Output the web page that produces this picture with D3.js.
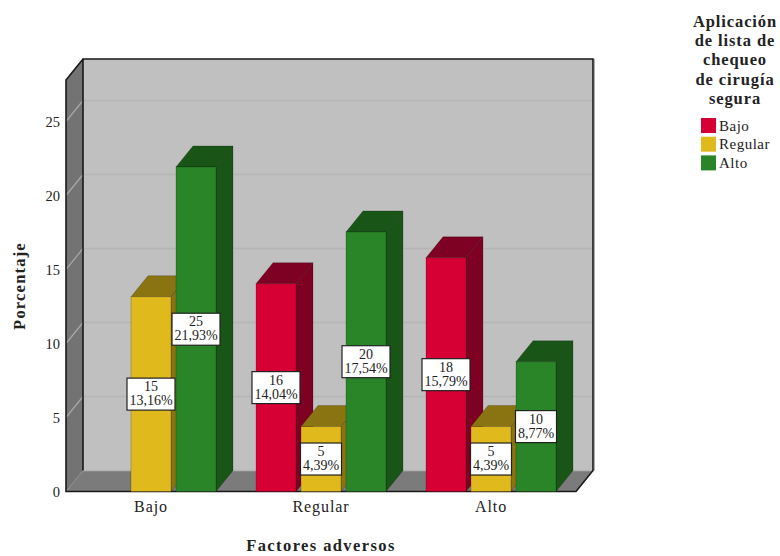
<!DOCTYPE html>
<html>
<head>
<meta charset="utf-8">
<script src="https://cdn.jsdelivr.net/npm/d3@7/dist/d3.min.js"></script>
<style>
html,body{margin:0;padding:0;background:#fff;}
svg{display:block;}
text{font-family:"Liberation Serif",serif;fill:#222;}
</style>
</head>
<body>
<svg id="chart" width="780" height="556"></svg>
<script>
// Adverse factors grouped by surgical safety checklist application
const categories = ["Bajo", "Regular", "Alto"];
const seriesNames = ["Bajo", "Regular", "Alto"];
const counts = [[0, 15, 25], [16, 5, 20], [18, 5, 10]];
const percents = [[0, 13.16, 21.93], [14.04, 4.39, 17.54], [15.79, 4.39, 8.77]];
const percentLabels = [["", "13,16%", "21,93%"], ["14,04%", "4,39%", "17,54%"], ["15,79%", "4,39%", "8,77%"]];
const yTicks = [0, 5, 10, 15, 20, 25];
const legendTitle = ["Aplicación", "de lista de", "chequeo", "de cirugía", "segura"];
const fronts = ["#d70034", "#e0b91d", "#2a8528"];
const sides = ["#7e0022", "#8a7411", "#1a5518"];

const svg = d3.select("#chart");
const depthX = 17, depthY = 21;
const floorY = 491.5, topY = 80;

const x = d3.scaleBand().domain(categories).range([66, 576]);
const xInner = d3.scaleBand().domain(seriesNames).range([20, 150]).paddingInner(5 / 45);
const y = d3.scaleLinear().domain([0, 25]).range([floorY, floorY - 25 * 14.8]);
const left = x.range()[0], right = x.range()[1];
const poly = pts => pts.map(p => p.join(",")).join(" ");

// Box walls and floor
svg.append("polygon").attr("points", poly([[left + depthX, topY - depthY], [right + depthX, topY - depthY], [right + depthX, floorY - depthY], [left + depthX, floorY - depthY]]))
  .attr("fill", "#c0c0c0");
svg.append("polygon").attr("points", poly([[left, topY], [left + depthX, topY - depthY], [left + depthX, floorY - depthY], [left, floorY]]))
  .attr("fill", "#737373");
svg.append("polygon").attr("points", poly([[left, floorY], [left + depthX, floorY - depthY], [right + depthX, floorY - depthY], [right, floorY]]))
  .attr("fill", "#7b7b7b");

// Grid lines across the side and back walls
yTicks.filter(d => d > 0).forEach(d => {
  svg.append("line").attr("x1", left).attr("y1", y(d)).attr("x2", left + depthX).attr("y2", y(d) - depthY)
    .attr("stroke", "#a8a8a8").attr("stroke-width", 1.2);
  svg.append("line").attr("x1", left + depthX).attr("y1", y(d) - depthY).attr("x2", right + depthX).attr("y2", y(d) - depthY)
    .attr("stroke", "#b5b5b5").attr("stroke-width", 1.5);
});
svg.append("line").attr("x1", left + depthX).attr("x2", right + depthX)
  .attr("y1", floorY - depthY).attr("y2", floorY - depthY)
  .attr("stroke", "#b4b4b4").attr("stroke-width", 1.5);

// Pale rim outside the right wall, then the box outline
svg.append("line").attr("x1", right + depthX + 1.5).attr("x2", right + depthX + 1.5)
  .attr("y1", topY - depthY).attr("y2", floorY - depthY)
  .attr("stroke", "#b0b0b0").attr("stroke-width", 1);
svg.append("polyline")
  .attr("points", poly([[left + depthX, floorY - depthY], [left + depthX, topY - depthY], [right + depthX, topY - depthY], [right + depthX, floorY - depthY], [right, floorY], [left, floorY], [left, topY], [left + depthX, topY - depthY]]))
  .attr("fill", "none").attr("stroke", "#1a1a1a").attr("stroke-width", 1.6);

// Bars, each a front face with side and top faces
const groups = svg.selectAll("g.group").data(categories).join("g").attr("class", "group")
  .attr("transform", d => `translate(${x(d)},0)`);

groups.each(function (cat, ci) {
  const g = d3.select(this);
  seriesNames.forEach((s, si) => {
    const v = percents[ci][si];
    if (!v) return;
    const x0 = xInner(s), x1 = x0 + xInner.bandwidth(), yTop = y(v);
    g.append("polygon").attr("points", poly([[x1, yTop], [x1 + depthX, yTop - depthY], [x1 + depthX, floorY - depthY], [x1, floorY]]))
      .attr("fill", sides[si]).attr("stroke", "#0003");
    g.append("polygon").attr("points", poly([[x0, yTop], [x0 + depthX, yTop - depthY], [x1 + depthX, yTop - depthY], [x1, yTop]]))
      .attr("fill", sides[si]).attr("stroke", "#0003");
    g.append("rect").attr("x", x0).attr("y", yTop).attr("width", xInner.bandwidth()).attr("height", floorY - yTop)
      .attr("fill", fronts[si]).attr("stroke", "#0003");
  });
});

// Value boxes sit above all the bars; their width follows the label length
groups.each(function (cat, ci) {
  const g = d3.select(this);
  seriesNames.forEach((s, si) => {
    const v = percents[ci][si];
    if (!v) return;
    const cx = xInner(s) + xInner.bandwidth() / 2, cy = y(v / 2);
    const label = percentLabels[ci][si];
    const halfWidth = label.length > 5 ? 24 : 20.5;
    g.append("rect").attr("x", cx - halfWidth).attr("y", cy - 16).attr("width", halfWidth * 2).attr("height", 32)
      .attr("fill", "#fff").attr("stroke", "#222").attr("stroke-width", 1.2);
    g.append("text").attr("x", cx).attr("y", cy - 3).attr("text-anchor", "middle").attr("font-size", 14)
      .text(counts[ci][si]);
    g.append("text").attr("x", cx).attr("y", cy + 11).attr("text-anchor", "middle").attr("font-size", 14)
      .text(label);
  });
});

// Axes carry only their labels; the box outline draws the lines
const axisY = svg.append("g").attr("transform", `translate(${left},0)`)
  .call(d3.axisLeft(y).tickValues(yTicks).tickSize(0).tickPadding(6));
const axisX = svg.append("g").attr("transform", `translate(0,${floorY})`)
  .call(d3.axisBottom(x).tickSize(0).tickPadding(9));
axisY.select(".domain").remove();
axisX.select(".domain").remove();
axisY.selectAll("text").attr("font-family", "Liberation Serif").attr("fill", "#222").attr("font-size", 14.5);
axisX.selectAll("text").attr("font-family", "Liberation Serif").attr("fill", "#222").attr("font-size", 16).attr("letter-spacing", 0.9);

// Axis titles
svg.append("text").attr("x", 321).attr("y", 551).attr("text-anchor", "middle")
  .attr("font-size", 16.5).attr("font-weight", "bold").attr("letter-spacing", 1.4).text("Factores adversos");
svg.append("text").attr("transform", "translate(24.5,286) rotate(-90)").attr("text-anchor", "middle")
  .attr("font-size", 16.5).attr("font-weight", "bold").attr("letter-spacing", 1.2).text("Porcentaje");

// Legend
legendTitle.forEach((line, i) => {
  svg.append("text").attr("x", 735).attr("y", 27 + i * 19.2).attr("text-anchor", "middle")
    .attr("font-size", 16.5).attr("font-weight", "bold").attr("letter-spacing", 0.9).text(line);
});
seriesNames.forEach((s, i) => {
  svg.append("rect").attr("x", 701).attr("y", 118 + i * 18.7).attr("width", 15).attr("height", 15)
    .attr("fill", fronts[i]);
  svg.append("text").attr("x", 719).attr("y", 130.5 + i * 18.7).attr("font-size", 15)
    .attr("letter-spacing", 0.5).text(s);
});
</script>
</body>
</html>
